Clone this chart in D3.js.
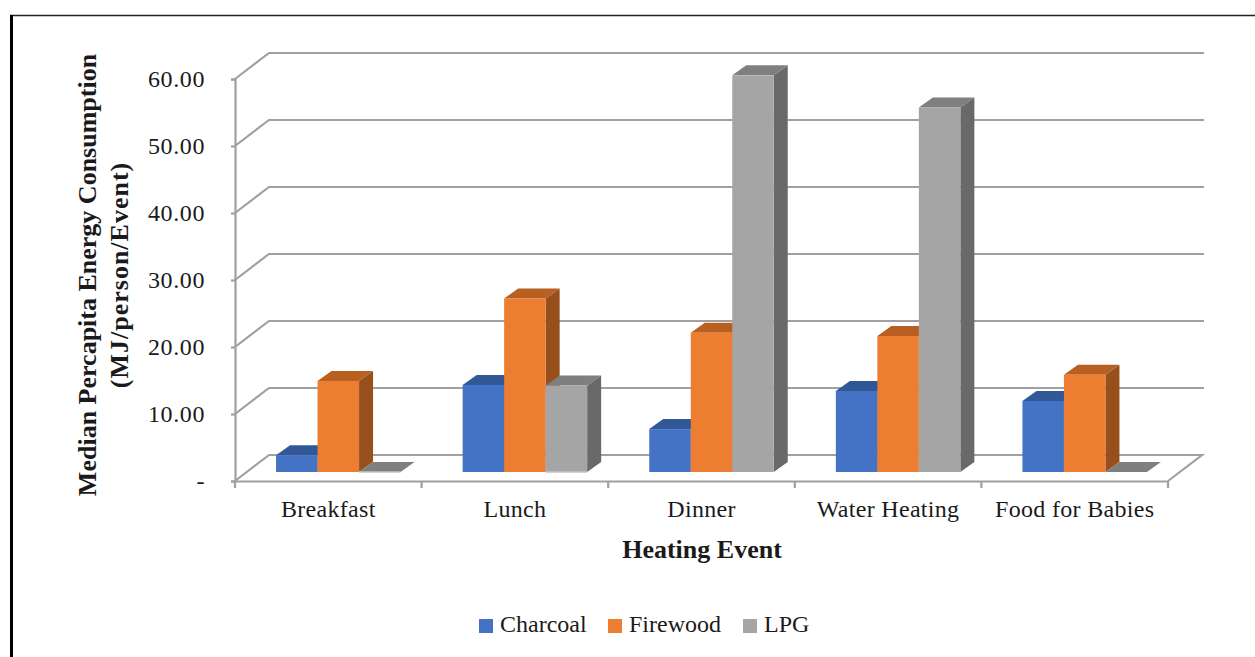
<!DOCTYPE html>
<html>
<head>
<meta charset="utf-8" />
<title>Median Percapita Energy Consumption</title>
<style>
body { margin: 0; background: #fff; }
text { font-family: "Liberation Serif", serif; fill: #1a1a1a; }
.axis path, .axis line, .grid { fill: none; stroke: #a0a0a0; stroke-width: 2.2; }
.frame { fill: none; stroke: #222; }
</style>
</head>
<body>
<div id="chart"></div>
<script src="https://d3js.org/d3.v7.min.js"></script>
<script>
var categories = ['Breakfast', 'Lunch', 'Dinner', 'Water Heating', 'Food for Babies'];
var seriesNames = ['Charcoal', 'Firewood', 'LPG'];
var charcoal = [2.5, 13.0, 6.4, 12.1, 10.6];
var firewood = [13.6, 25.9, 20.8, 20.3, 14.5];
var lpg = [0, 12.9, 59.2, 54.4, 0];
var yTicks = [0, 10, 20, 30, 40, 50, 60];

var seriesValues = [charcoal, firewood, lpg];
var frontColor = ['#4472c4', '#ed7d31', '#a5a5a5'];
var topColor = ['#325797', '#b85f22', '#7f7f7f'];
var sideColor = ['#2a4a80', '#97501c', '#696969'];

var width = 1255, height = 657;
var left = 235, right = 1168, base = 481, top60 = 79;
var wallX = 34, wallY = 26;     // depth of the whole chart box
var shiftX = 10, shiftY = 9;    // bars sit a little behind the front edge
var barX = 14, barY = 10;       // depth of one bar

var svg = d3.select('#chart').append('svg').attr('width', width).attr('height', height);

// page frame left over from the source document
svg.append('line').attr('class', 'frame').attr('x1', 10).attr('x2', width).attr('y1', 15.5).attr('y2', 15.5).attr('stroke-width', 1.5);
svg.append('line').attr('class', 'frame').attr('x1', 11.5).attr('x2', 11.5).attr('y1', 15).attr('y2', height).attr('stroke-width', 3).style('stroke', '#000');

var x = d3.scaleBand().domain(categories).range([left, right]);
var y = d3.scaleLinear().domain([0, 60]).range([base, top60]);
var groupWidth = 124.5;
var xBar = d3.scaleBand().domain(seriesNames).range([0, groupWidth]);

// floor and gridlines on the back wall
svg.append('path').attr('class', 'grid')
	.attr('d', 'M' + right + ',' + base + 'L' + (right + wallX) + ',' + (base - wallY) + 'L' + (left + wallX) + ',' + (base - wallY));

svg.selectAll('.wall').data(yTicks.slice(1)).enter().append('path')
	.attr('class', 'grid wall')
	.attr('d', function(d) {
		return 'M' + left + ',' + y(d) + 'L' + (left + wallX) + ',' + (y(d) - wallY) + 'L' + (right + 36) + ',' + (y(d) - wallY);
	});
svg.append('path').attr('class', 'grid')
	.attr('d', 'M' + left + ',' + base + 'L' + (left + wallX) + ',' + (base - wallY));

// axes
var yAxis = d3.axisLeft(y).tickValues(yTicks).tickSize(4).tickPadding(26)
	.tickFormat(function(d) { return d === 0 ? '-' : d.toFixed(2); });
var yG = svg.append('g').attr('class', 'axis').attr('transform', 'translate(' + left + ',0)').call(yAxis);
yG.selectAll('text').style('font-size', '24px').style('letter-spacing', '0.6px').attr('dy', '0.32em');

var xAxis = d3.axisBottom(x).tickSize(0).tickPadding(19);
var xG = svg.append('g').attr('class', 'axis').attr('transform', 'translate(0,' + base + ')').call(xAxis);
xG.selectAll('text').style('font-size', '24px').style('letter-spacing', '0.3px');
xG.selectAll('.edge').data(d3.range(categories.length + 1)).enter().append('line')
	.attr('class', 'edge')
	.attr('x1', function(i) { return left + i * x.bandwidth(); })
	.attr('x2', function(i) { return left + i * x.bandwidth(); })
	.attr('y1', 0).attr('y2', 7);

// bars
seriesNames.forEach(function(name, s) {
	var g = svg.append('g').attr('class', 'series');
	var bars = g.selectAll('g').data(seriesValues[s]).enter().append('g');
	var w = xBar.bandwidth();
	function x0(d, i) { return x(categories[i]) + (x.bandwidth() - groupWidth) / 2 + xBar(name) + shiftX; }
	function y0(d) { return y(d) - shiftY; }
	var yb = base - shiftY;

	bars.append('path').attr('fill', sideColor[s]).attr('d', function(d, i) {
		var a = x0(d, i) + w;
		return 'M' + a + ',' + y0(d) + 'l' + barX + ',' + (-barY) + 'L' + (a + barX) + ',' + (yb - barY) + 'L' + a + ',' + yb + 'Z';
	});
	bars.append('path').attr('fill', topColor[s]).attr('d', function(d, i) {
		var a = x0(d, i);
		return 'M' + a + ',' + y0(d) + 'l' + barX + ',' + (-barY) + 'h' + w + 'l' + (-barX) + ',' + barY + 'Z';
	});
	bars.append('rect')
		.attr('x', x0)
		.attr('y', y0)
		.attr('width', w)
		.attr('height', function(d) { return yb - y0(d); })
		.attr('fill', frontColor[s]);
	// a zero bar still shows a thin light front edge
	bars.filter(function(d) { return d === 0; }).append('line')
		.attr('x1', x0)
		.attr('x2', function(d, i) { return x0(d, i) + w; })
		.attr('y1', yb).attr('y2', yb)
		.attr('stroke', '#c4c4c4').attr('stroke-width', 1.5);
});

// axis titles
var yTitle = svg.append('text').attr('transform', 'translate(96,275) rotate(-90)')
	.attr('text-anchor', 'middle').style('font-size', '26px').style('font-weight', 'bold');
yTitle.append('tspan').attr('x', 0).attr('y', 0).text('Median Percapita Energy Consumption');
yTitle.append('tspan').attr('x', 0).attr('y', 32).style('letter-spacing', '1px').text('(MJ/person/Event)');

svg.append('text').attr('x', 702).attr('y', 558).attr('text-anchor', 'middle')
	.style('font-size', '26px').style('font-weight', 'bold').text('Heating Event');

// legend
var legendX = d3.scaleOrdinal().domain(seriesNames).range([479, 608, 743]);
var legend = svg.selectAll('.legend').data(seriesNames).enter().append('g')
	.attr('class', 'legend')
	.attr('transform', function(d) { return 'translate(' + legendX(d) + ',619)'; });
legend.append('rect').attr('width', 14).attr('height', 14)
	.attr('fill', function(d, i) { return frontColor[i]; });
legend.append('text').attr('x', 21).attr('y', 13).style('font-size', '24px')
	.text(function(d) { return d; });
</script>
</body>
</html>
